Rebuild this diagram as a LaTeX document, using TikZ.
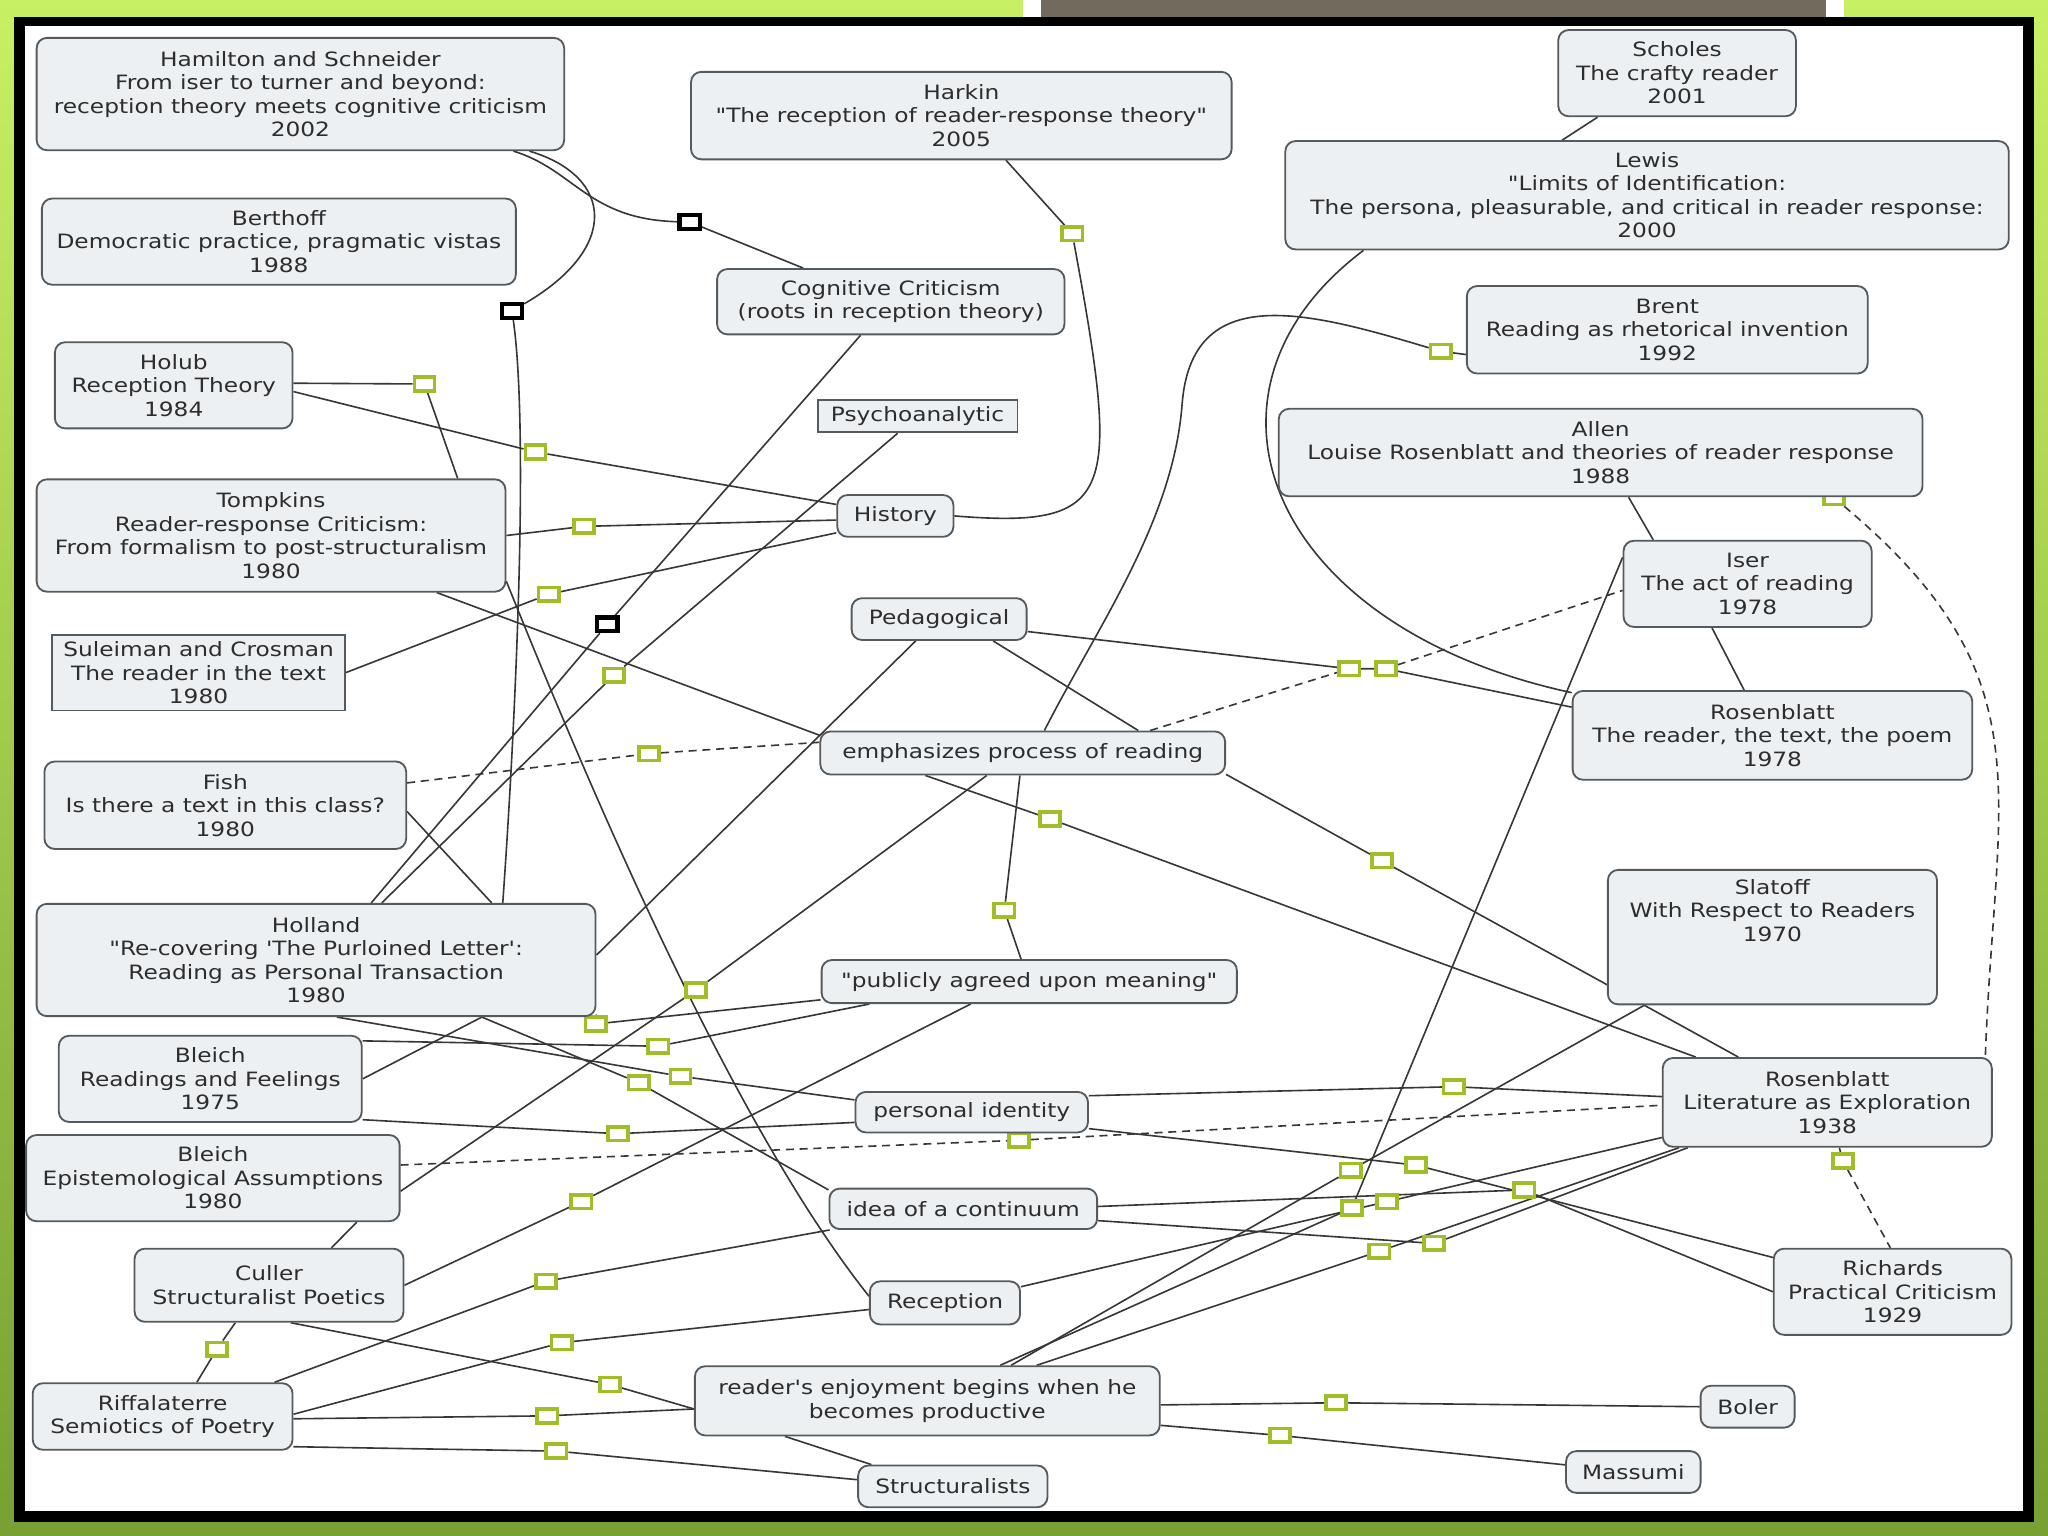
\documentclass[tikz,border=0pt]{standalone}
\usepackage{fontspec}
\setmainfont[FakeStretch=1.18, Ligatures=TeXOff]{DejaVu Sans}
\usepackage{tikz}
\usetikzlibrary{backgrounds}
\definecolor{limetop}{RGB}{200,240,100}
\definecolor{limebot}{RGB}{120,160,50}
\definecolor{barbrown}{RGB}{115,106,94}
\definecolor{boxfill}{RGB}{236,240,243}
\definecolor{boxline}{RGB}{85,90,95}
\definecolor{inktext}{RGB}{45,45,45}
\definecolor{wiregray}{RGB}{55,55,55}
\definecolor{linkgreen}{RGB}{160,190,40}
\pgfdeclarelayer{backdrop}
\pgfsetlayers{backdrop,background,main}
\tikzset{
    cbox/.style={rectangle, rounded corners=4.5pt, draw=boxline, fill=boxfill,
                 line width=0.8pt, align=center, inner sep=2pt, text=inktext,
                 font=\fontsize{8.6pt}{10.24pt}\selectfont},
    sqbox/.style={cbox, rounded corners=0pt},
    lnk/.style={rectangle, draw=linkgreen, fill=white, line width=1.6pt,
                minimum width=0.31cm, minimum height=0.21cm, inner sep=0pt},
    lnkb/.style={lnk, draw=black, line width=1.8pt},
    wire/.style={draw=wiregray, line width=0.7pt},
    dwire/.style={wire, dash pattern=on 3.5pt off 2.5pt},
}

\begin{document}
\begin{tikzpicture}[x=0.02cm, y=-0.02cm]
    \useasboundingbox (0,0) rectangle (1568,1176);
    \begin{pgfonlayer}{backdrop}
        \shade[top color=limetop, bottom color=limebot] (0,0) rectangle (1568,1176);
        \fill[black] (11,13) rectangle (1557,1165);
        \fill[white] (19,20) rectangle (1549,1157);
        \fill[white] (783,0) rectangle (1412,13);
        \fill[barbrown] (797,0) rectangle (1398,13);
    \end{pgfonlayer}

    \node[lnkb] (bk1) at (528,170) {};
    \node[lnkb] (bk2) at (392,238) {};
    \node[lnkb] (bk3) at (465,478) {};
    \node[lnk] (lk1) at (325,294) {};
    \node[lnk] (lk2) at (410,346) {};
    \node[lnk] (lk3) at (447,403) {};
    \node[lnk] (lk4) at (420,455) {};
    \node[lnk] (lk5) at (821,179) {};
    \node[lnk] (lk6) at (1103,269) {};
    \node[lnk] (lk7) at (1404,381) {};
    \node[lnk] (lk8) at (1411,889) {};
    \node[lnk] (lk9) at (470,517) {};
    \node[lnk] (lk10) at (497,577) {};
    \node[lnk] (lk11) at (1033,512) {};
    \node[lnk] (lk12) at (1061,512) {};
    \node[lnk] (lk13) at (456,784) {};
    \node[lnk] (lk14) at (504,801) {};
    \node[lnk] (lk15) at (521,824) {};
    \node[lnk] (lk16) at (489,829) {};
    \node[lnk] (lk17) at (473,868) {};
    \node[lnk] (lk18) at (533,758) {};
    \node[lnk] (lk19) at (769,697) {};
    \node[lnk] (lk20) at (804,627) {};
    \node[lnk] (lk21) at (1058,659) {};
    \node[lnk] (lk22) at (445,920) {};
    \node[lnk] (lk23) at (780,873) {};
    \node[lnk] (lk24) at (166,1033) {};
    \node[lnk] (lk25) at (418,981) {};
    \node[lnk] (lk26) at (430,1028) {};
    \node[lnk] (lk27) at (419,1084) {};
    \node[lnk] (lk28) at (426,1111) {};
    \node[lnk] (lk29) at (467,1060) {};
    \node[lnk] (lk30) at (1023,1074) {};
    \node[lnk] (lk31) at (980,1099) {};
    \node[lnk] (lk32) at (1113,832) {};
    \node[lnk] (lk33) at (1084,892) {};
    \node[lnk] (lk34) at (1167,911) {};
    \node[lnk] (lk35) at (1098,952) {};
    \node[lnk] (lk36) at (1056,958) {};
    \node[lnk] (lk37) at (1034,896) {};
    \node[lnk] (lk38) at (1035,925) {};
    \node[lnk] (lk39) at (1062,920) {};

    \node[cbox, minimum width=8.08cm, minimum height=1.72cm] (hamilton) at (230,72)
        {Hamilton and Schneider\\From iser to turner and beyond:\\reception theory meets cognitive criticism\\2002};
    \node[cbox, minimum width=8.28cm, minimum height=1.34cm] (harkin) at (736,88.5)
        {Harkin\\"The reception of reader-response theory"\\2005};
    \node[cbox, minimum width=3.64cm, minimum height=1.32cm] (scholes) at (1284,56)
        {Scholes\\The crafty reader\\2001};
    \node[cbox, minimum width=11.08cm, minimum height=1.66cm] (lewis) at (1261,149.5)
        {Lewis\\"Limits of Identification:\\The persona, pleasurable, and critical in reader response:\\2000};
    \node[cbox, minimum width=7.26cm, minimum height=1.32cm] (berthoff) at (213.5,185)
        {Berthoff\\Democratic practice, pragmatic vistas\\1988};
    \node[cbox, minimum width=5.32cm, minimum height=1.0cm] (cogcrit) at (682,231)
        {Cognitive Criticism\\(roots in reception theory)};
    \node[cbox, minimum width=6.14cm, minimum height=1.34cm] (brent) at (1276.5,252.5)
        {Brent\\Reading as rhetorical invention\\1992};
    \node[cbox, minimum width=3.64cm, minimum height=1.32cm] (holub) at (133,295)
        {Holub\\Reception Theory\\1984};
    \node[sqbox, minimum width=3.06cm, minimum height=0.5cm] (psycho) at (702.5,318.5)
        {Psychoanalytic};
    \node[cbox, minimum width=9.86cm, minimum height=1.34cm] (allen) at (1225.5,346.5)
        {Allen\\Louise Rosenblatt and theories of reader response\\1988};
    \node[cbox, minimum width=1.78cm, minimum height=0.64cm] (history) at (685.5,395)
        {History};
    \node[cbox, minimum width=7.18cm, minimum height=1.72cm] (tompkins) at (207.5,410)
        {Tompkins\\Reader-response Criticism:\\From formalism to post-structuralism\\1980};
    \node[cbox, minimum width=3.8cm, minimum height=1.32cm] (iser) at (1338,447)
        {Iser\\The act of reading\\1978};
    \node[cbox, minimum width=2.68cm, minimum height=0.64cm] (pedagog) at (719,474)
        {Pedagogical};
    \node[sqbox, minimum width=4.48cm, minimum height=1.16cm] (suleiman) at (152,515)
        {Suleiman and Crosman\\The reader in the text\\1980};
    \node[cbox, minimum width=6.12cm, minimum height=1.36cm] (rosen78) at (1357,563)
        {Rosenblatt\\The reader, the text, the poem\\1978};
    \node[cbox, minimum width=6.2cm, minimum height=0.66cm] (process) at (783,576.5)
        {emphasizes process of reading};
    \node[cbox, minimum width=5.54cm, minimum height=1.34cm] (fish) at (172.5,616.5)
        {Fish\\Is there a text in this class?\\1980};
    \node[cbox, minimum width=5.04cm, minimum height=2.06cm] (slatoff) at (1357,717.5)
        {Slatoff\\With Respect to Readers\\1970\\\strut\\\strut};
    \node[cbox, minimum width=8.56cm, minimum height=1.72cm] (holland) at (242,735)
        {Holland\\"Re-covering 'The Purloined Letter':\\Reading as Personal Transaction\\1980};
    \node[cbox, minimum width=6.36cm, minimum height=0.66cm] (publicly) at (788,751.5)
        {"publicly agreed upon meaning"};
    \node[cbox, minimum width=4.64cm, minimum height=1.32cm] (bleichrf) at (161,826)
        {Bleich\\Readings and Feelings\\1975};
    \node[cbox, minimum width=5.04cm, minimum height=1.36cm] (rosen38) at (1399,844)
        {Rosenblatt\\Literature as Exploration\\1938};
    \node[cbox, minimum width=3.56cm, minimum height=0.62cm] (identity) at (744,851.5)
        {personal identity};
    \node[cbox, minimum width=5.72cm, minimum height=1.32cm] (bleichea) at (163,902)
        {Bleich\\Epistemological Assumptions\\1980};
    \node[cbox, minimum width=4.1cm, minimum height=0.62cm] (continuum) at (737.5,925.5)
        {idea of a continuum};
    \node[cbox, minimum width=3.64cm, minimum height=1.32cm] (richards) at (1449,989)
        {Richards\\Practical Criticism\\1929};
    \node[cbox, minimum width=4.12cm, minimum height=1.12cm] (culler) at (206,984)
        {Culler\\Structuralist Poetics};
    \node[cbox, minimum width=2.3cm, minimum height=0.66cm] (reception) at (723.5,997.5)
        {Reception};
    \node[cbox, minimum width=7.12cm, minimum height=1.06cm] (enjoy) at (710,1072.5)
        {reader's enjoyment begins when he\\becomes productive};
    \node[cbox, minimum width=3.98cm, minimum height=1.02cm] (riffa) at (124.5,1084.5)
        {Riffalaterre\\Semiotics of Poetry};
    \node[cbox, minimum width=1.44cm, minimum height=0.64cm] (boler) at (1338,1077)
        {Boler};
    \node[cbox, minimum width=2.06cm, minimum height=0.64cm] (massumi) at (1250.5,1127)
        {Massumi};
    \node[cbox, minimum width=2.9cm, minimum height=0.64cm] (structural) at (729.5,1138)
        {Structuralists};

    \begin{scope}[on background layer]
        \draw[wire] (hamilton.-15) .. controls (440,130) and (450,168) .. (bk1) -- (cogcrit.159);
        \draw[wire] (hamilton.-14) .. controls (470,135) and (475,190) .. (bk2)
            .. controls (405,330) and (395,550) .. (holland.17);
        \draw[wire] (cogcrit.228) -- (bk3) -- (holland.46);
        \draw[wire] (psycho.221) -- (lk9) -- (holland.41);
        \draw[wire] (holub.1) -- (lk1) -- (tompkins.17);
        \draw[wire] (holub.-3) -- (lk2) -- (history.169);
        \draw[wire] (tompkins.east) -- (lk3) -- (history.184);
        \draw[wire] (suleiman.east) -- (lk4) -- (history.196);
        \draw[wire] (harkin.-45) -- (lk5) .. controls (858,380) and (855,405) .. (history.east);
        \draw[wire] (brent.187) -- (lk6) .. controls (1000,238) and (912,215) .. (905,310)
            .. controls (898,400) and (840,480) .. (process.46);
        \draw[wire] (lewis.191) .. controls (900,300) and (970,480) .. (rosen78.168);
        \draw[wire] (scholes.209) -- (lewis.147);
        \draw[wire] (allen.-58) -- (iser.155);
        \draw[wire] (iser.231) -- (rosen78.122);
        \draw[wire] (allen) -- (lk7);
        \draw[dwire] (lk7) to[out=-40, in=88, looseness=1.2] (rosen38.16);
        \draw[dwire] (rosen38) -- (lk8) -- (richards.93);
        \draw[wire] (pedagog.-8) -- (lk11) -- (lk12) -- (rosen78.172);
        \draw[dwire] (process.10) -- (lk11);
        \draw[dwire] (lk12) -- (iser.183);
        \draw[wire] (pedagog.-22) -- (process.11);
        \draw[wire] (pedagog.223) -- (holland.1);
        \draw[wire] (tompkins.-19) -- (process.175);
        \draw[wire] (tompkins.-11) .. controls (450,600) and (560,860) .. (reception.175);
        \draw[dwire] (fish.7) -- (lk10) -- (process.177);
        \draw[wire] (fish.-2) -- (holland.18);
        \draw[wire] (bleichrf.east) -- (holland.-19);
        \draw[wire] (holland.-11) -- (lk13) -- (publicly.185);
        \draw[wire] (bleichrf.14) -- (lk14) -- (publicly.188);
        \draw[wire] (holland.-70) -- (lk15) -- (identity.174);
        \draw[wire] (holland.-19) -- (lk16) -- (continuum.172);
        \draw[wire] (bleichrf.-15) -- (lk17) -- (identity.185);
        \draw[wire] (process.212) -- (lk18) -- (bleichea.-4);
        \draw[wire] (process.263) -- (lk19) -- (publicly.110);
        \draw[wire] (process.193) -- (lk20) -- (rosen38.161);
        \draw[wire] (process.-6) -- (lk21) -- (rosen38.153);
        \draw[wire] (publicly.201) -- (lk22) -- (culler.east);
        \draw[dwire] (bleichea.4) -- (lk23) -- (rosen38.181);
        \draw[wire] (bleichea.-17) -- (culler.31);
        \draw[wire] (culler.228) -- (lk24) -- (riffa.45);
        \draw[wire] (riffa.17) -- (lk25) -- (continuum.189);
        \draw[wire] (riffa.1) -- (lk26) -- (reception.185);
        \draw[wire] (riffa.-1) -- (lk27) -- (enjoy.182);
        \draw[wire] (riffa.-13) -- (lk28) -- (structural.176);
        \draw[wire] (culler.-60) -- (lk29) -- (enjoy.182);
        \draw[wire] (enjoy.194) -- (structural.165);
        \draw[wire] (enjoy.-1) -- (lk30) -- (boler.west);
        \draw[wire] (enjoy.-6) -- (lk31) -- (massumi.174);
        \draw[wire] (identity.8) -- (lk32) -- (rosen38.178);
        \draw[wire] (identity.-8) -- (lk33) -- (richards.164);
        \draw[wire] (continuum.1) -- (lk34) -- (richards.west);
        \draw[wire] (continuum.-5) -- (lk35) -- (rosen38.198);
        \draw[wire] (enjoy.18) -- (lk36) -- (rosen38.197);
        \draw[wire] (enjoy.23) -- (lk37) -- (slatoff.208);
        \draw[wire] (enjoy.26) -- (lk38) -- (iser.168);
        \draw[wire] (reception.12) -- (lk39) -- (rosen38.192);
    \end{scope}
\end{tikzpicture}
\end{document}
